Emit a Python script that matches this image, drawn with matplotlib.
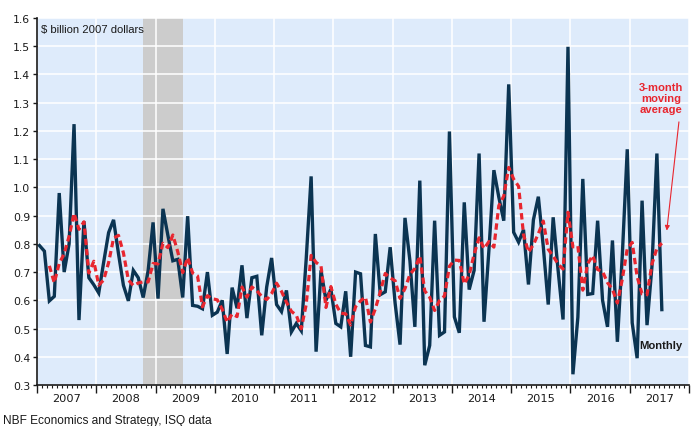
import matplotlib as mpl
import matplotlib.pyplot as plt
import numpy as np
import pandas as pd
from matplotlib.ticker import FixedLocator, FixedFormatter


mpl.rcParams.update(
    {
        "font.family": "sans-serif",
        "font.sans-serif": ["Liberation Sans", "Arial", "DejaVu Sans"],
        "font.size": 8,
        "axes.linewidth": 1.2,
        "figure.facecolor": "white",
        "savefig.facecolor": "white",
    }
)

COL = {
    "ink": "#1a1a1a",
    "bg": "#deebfb",
    "grid": "white",
    "band": "#cccccc",
    "monthly": "#0b3452",
    "avg": "#e8262f",
}

# monthly series, Jan 2007 .. Jul 2017 ($ billion 2007 dollars)
START_YEAR = 2007
MONTHLY = [
    0.794, 0.774, 0.598, 0.614, 0.980, 0.700, 0.800, 1.224, 0.530, 0.880, 0.680, 0.655,
    0.626, 0.735, 0.840, 0.885, 0.765, 0.653, 0.598, 0.706, 0.680, 0.610, 0.705, 0.876,
    0.606, 0.924, 0.830, 0.740, 0.745, 0.610, 0.898, 0.582, 0.579, 0.570, 0.700, 0.547,
    0.558, 0.600, 0.410, 0.645, 0.572, 0.724, 0.537, 0.680, 0.685, 0.476, 0.647, 0.750,
    0.585, 0.560, 0.635, 0.488, 0.518, 0.492, 0.746, 1.039, 0.418, 0.706, 0.600, 0.640,
    0.518, 0.506, 0.632, 0.400, 0.700, 0.694, 0.440, 0.435, 0.835, 0.620, 0.630, 0.788,
    0.590, 0.443, 0.892, 0.740, 0.506, 1.024, 0.370, 0.440, 0.882, 0.476, 0.488, 1.198,
    0.541, 0.485, 0.947, 0.638, 0.706, 1.120, 0.524, 0.780, 1.061, 0.965, 0.882, 1.365,
    0.841, 0.806, 0.850, 0.656, 0.885, 0.967, 0.790, 0.585, 0.894, 0.706, 0.532, 1.498,
    0.338, 0.540, 1.030, 0.621, 0.624, 0.882, 0.600, 0.506, 0.812, 0.453, 0.760, 1.135,
    0.520, 0.395, 0.953, 0.512, 0.720, 1.120, 0.567,
]
YEARS = list(range(2007, 2018))
RECESSION = (2008.79, 2009.46)
Y_TICKS = [0.3, 0.4, 0.5, 0.6, 0.7, 0.8, 0.9, 1.0, 1.1, 1.2, 1.3, 1.4, 1.5, 1.6]
TICK_FONT = "DejaVu Sans"


def main():
    s = pd.Series(MONTHLY)
    x = START_YEAR + (np.arange(len(s)) + 0.5) / 12
    avg = s.rolling(3).mean()

    fig = plt.figure(figsize=(6.96, 4.27), dpi=100)
    ax = fig.add_axes([37 / 696, 1 - 386 / 427, 652 / 696, 367 / 427])
    ax.set_facecolor(COL["bg"])

    ax.axvspan(*RECESSION, color=COL["band"], lw=0, zorder=0.5)
    ax.plot(x, s, color=COL["monthly"], lw=2.4, zorder=3, solid_joinstyle="miter")
    ax.plot(x, avg, color=COL["avg"], lw=2.3, ls=(0, (2.0, 1.2)), zorder=4)

    ax.set_xlim(YEARS[0], YEARS[-1] + 1)
    ax.set_ylim(Y_TICKS[0], Y_TICKS[-1])

    # years: long ticks at boundaries, short monthly ticks, label mid-year
    ax.xaxis.set_major_locator(FixedLocator(YEARS + [YEARS[-1] + 1]))
    ax.xaxis.set_major_formatter(FixedFormatter([]))
    n_months = 12 * len(YEARS)
    month_pos = [YEARS[0] + k / 12 for k in range(n_months + 1) if k % 12]
    month_lab = [str(YEARS[0] + k // 12) if k % 12 == 6 else "" for k in range(n_months + 1) if k % 12]
    ax.xaxis.set_minor_locator(FixedLocator(month_pos))
    ax.xaxis.set_minor_formatter(FixedFormatter(month_lab))
    ax.tick_params(axis="x", which="major", length=5.5, width=1.0, color=COL["ink"])
    ax.tick_params(axis="x", which="minor", length=2.5, width=0.8, color=COL["ink"],
                   labelsize=8.2, pad=3.0, labelcolor=COL["ink"])
    for lab in ax.get_xticklabels(minor=True):
        lab.set_family(TICK_FONT)

    ax.set_yticks(Y_TICKS)
    ax.set_yticklabels([f"{v:.1f}" for v in Y_TICKS], family=TICK_FONT)
    ax.tick_params(axis="y", length=3, width=1.0, color=COL["ink"], labelsize=7.8,
                   pad=2, labelcolor=COL["ink"])

    ax.grid(True, which="major", color=COL["grid"], lw=1.1, zorder=1)
    ax.set_axisbelow(False)
    for line in ax.get_xgridlines() + ax.get_ygridlines():
        line.set_zorder(1)
    ax.spines["top"].set_visible(False)
    ax.spines["right"].set_visible(False)
    for sp in ("left", "bottom"):
        ax.spines[sp].set_color(COL["ink"])
        ax.spines[sp].set_zorder(5)

    ax.text(4 / 652, 0.97, "$ billion 2007 dollars", transform=ax.transAxes,
            ha="left", va="center", fontsize=8.1, color=COL["ink"], zorder=6)
    ax.text(2017.53, 1.317, "3-month\nmoving\naverage", ha="center", va="center",
            fontsize=8.1, fontweight="bold", color=COL["avg"], linespacing=1.15, zorder=6)
    ax.annotate("", xy=(2017.625, 0.847), xytext=(2017.83, 1.232),
                arrowprops=dict(arrowstyle="-|>", color=COL["avg"], lw=0.8,
                                mutation_scale=7, shrinkA=0, shrinkB=0), zorder=6)
    ax.text(2017.16, 0.442, "Monthly", ha="left", va="center", fontsize=8.1,
            fontweight="bold", color=COL["ink"], zorder=6)

    fig.text(3 / 696, 3 / 427, "NBF Economics and Strategy, ISQ data", ha="left",
             va="baseline", fontsize=8.6, color=COL["ink"])

    fig.savefig("out.png", dpi=100)
    plt.close(fig)


if __name__ == "__main__":
    main()
